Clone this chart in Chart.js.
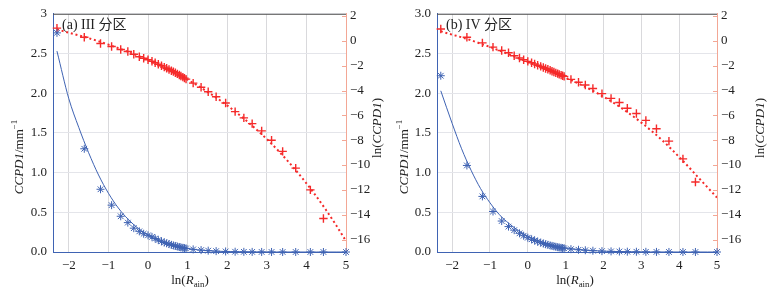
<!DOCTYPE html>
<html>
<head>
<meta charset="utf-8">
<script src="https://cdn.jsdelivr.net/npm/chart.js@4.4.0/dist/chart.umd.min.js"></script>
<style>
body { margin: 0; background: #fff; width: 775px; height: 292px; position: relative; overflow: hidden; }
canvas { position: absolute; top: 0; }
</style>
</head>
<body>
<canvas id="chartA" width="388" height="292" style="left:0"></canvas>
<canvas id="chartB" width="387" height="292" style="left:388px"></canvas>
<script>
// ln(R_ain) of each bin, shared by both zones
var lnR = [-2.30, -1.61, -1.20, -0.92, -0.69, -0.51, -0.36, -0.22, -0.11, 0,
    0.10, 0.18, 0.26, 0.34, 0.41, 0.47, 0.53, 0.59, 0.64, 0.69,
    0.74, 0.79, 0.83, 0.88, 0.92, 0.96, 1.14, 1.34, 1.52, 1.72,
    1.96, 2.20, 2.42, 2.63, 2.87, 3.12, 3.40, 3.73, 4.10, 4.43,
    5.00];

// zone III
var ccpdA = [2.76, 1.30, 0.79, 0.59, 0.45, 0.37, 0.30, 0.26, 0.23, 0.21,
    0.19, 0.17, 0.15, 0.135, 0.12, 0.11, 0.10, 0.09, 0.083, 0.076,
    0.069, 0.063, 0.058, 0.053, 0.049, 0.045, 0.033, 0.024, 0.017, 0.011,
    0.0067, 0.0034, 0.002, 0.0013, 0.0007, 0.0003, 0.0001, 0, 0, 0,
    0];
var lnCcpdA = [1.03, 0.29, -0.21, -0.45, -0.69, -0.85, -1.08, -1.28, -1.40, -1.52,
    -1.64, -1.76, -1.88, -2.00, -2.11, -2.21, -2.30, -2.40, -2.48, -2.57,
    -2.66, -2.75, -2.83, -2.92, -3.00, -3.08, -3.40, -3.74, -4.10, -4.50,
    -5.00, -5.70, -6.20, -6.66, -7.25, -8.00, -8.90, -10.25, -12.00, -14.30];

// zone IV
var ccpdB = [2.22, 1.09, 0.70, 0.51, 0.39, 0.32, 0.275, 0.235, 0.205, 0.18,
    0.16, 0.145, 0.13, 0.118, 0.107, 0.098, 0.09, 0.083, 0.077, 0.071,
    0.066, 0.061, 0.057, 0.053, 0.05, 0.047, 0.036, 0.028, 0.022, 0.016,
    0.011, 0.008, 0.006, 0.004, 0.003, 0.002, 0.001, 0.0005, 0.0002, 0.0001,
    0];
var lnCcpdB = [0.96, 0.29, -0.16, -0.50, -0.77, -0.96, -1.20, -1.38, -1.52, -1.65,
    -1.76, -1.86, -1.96, -2.05, -2.14, -2.22, -2.29, -2.37, -2.44, -2.51,
    -2.58, -2.64, -2.70, -2.76, -2.81, -2.86, -3.10, -3.33, -3.55, -3.84,
    -4.25, -4.63, -4.96, -5.42, -5.85, -6.40, -7.08, -8.07, -9.50, -11.36];

// fitted curves
var fitX = [-2.3, -2.0, -1.75, -1.5, -1.25, -1.0, -0.75, -0.5, -0.25, 0,
    0.25, 0.5, 0.75, 1.0, 1.25, 1.5, 1.75, 2.0, 2.25, 2.5,
    2.75, 3.0, 3.25, 3.5, 3.75, 4.0, 4.25, 4.5, 4.75, 5.0];
var fitCcpdA = [2.53, 1.93, 1.57, 1.25, 0.97, 0.74, 0.554, 0.411, 0.298, 0.212,
    0.148, 0.101, 0.068, 0.044, 0.027, 0.017, 0.0098, 0.0055, 0.003, 0.0016,
    0.0008, 0.0004, 0.0002, 0.0001, 0, 0, 0, 0, 0, 0];
var fitLnA = [0.93, 0.66, 0.45, 0.22, -0.03, -0.30, -0.59, -0.89, -1.21, -1.55,
    -1.91, -2.29, -2.69, -3.13, -3.60, -4.10, -4.63, -5.20, -5.81, -6.47,
    -7.17, -7.91, -8.71, -9.57, -10.49, -11.47, -12.52, -13.64, -14.84, -16.12];
var fitCcpdB = [2.03, 1.62, 1.30, 1.03, 0.80, 0.62, 0.47, 0.36, 0.27, 0.20,
    0.15, 0.11, 0.075, 0.052, 0.036, 0.025, 0.017, 0.011, 0.007, 0.004,
    0.0025, 0.0014, 0.0008, 0.0004, 0.0002, 0.0001, 0, 0, 0, 0];
var fitLnB = [0.77, 0.50, 0.29, 0.05, -0.22, -0.49, -0.78, -1.08, -1.40, -1.70,
    -2.00, -2.31, -2.63, -2.96, -3.31, -3.68, -4.07, -4.50, -4.96, -5.46,
    -6.00, -6.58, -7.20, -7.86, -8.58, -9.35, -10.15, -10.98, -11.80, -12.62];

var xTicks = [-2, -1, 0, 1, 2, 3, 4, 5];
var lnTicks = [2, 0, -2, -4, -6, -8, -10, -12, -14, -16];

var BLUE = '#3f63b3';
var RED = '#f52a2a';
var SALMON = '#f3a795';
var SERIF = '"Liberation Serif", "DejaVu Serif", serif';

function pts(xs, ys) {
    return ys.map(function (y, i) { return { x: xs[i], y: y }; });
}
function minus(v) {
    return v < 0 ? '\u2212' + Math.abs(v) : '' + v;
}

function drawRich(ctx, segs, cx, cy, rot, size) {
    ctx.save();
    ctx.translate(cx, cy);
    ctx.rotate(rot);
    ctx.textBaseline = 'middle';
    ctx.fillStyle = '#222';
    var fontOf = function (s) {
        var sz = (s.sup || s.sub) ? size * 0.68 : size;
        return (s.i ? 'italic ' : '') + sz + 'px ' + SERIF;
    };
    var w = 0;
    segs.forEach(function (s) { ctx.font = fontOf(s); w += ctx.measureText(s.t).width; });
    var x = -w / 2;
    segs.forEach(function (s) {
        ctx.font = fontOf(s);
        var dy = s.sup ? -size * 0.38 : (s.sub ? size * 0.3 : 0);
        ctx.fillText(s.t, x, dy);
        x += ctx.measureText(s.t).width;
    });
    ctx.restore();
}

var leftTitle = [{ t: 'CCPD1', i: true }, { t: '/mm' }, { t: '\u22121', sup: true }];
var rightTitle = [{ t: 'ln(' }, { t: 'CCPD1', i: true }, { t: ')' }];
var xTitle = [{ t: 'ln(' }, { t: 'R', i: true }, { t: 'ain', sub: true }, { t: ')' }];

function makeChart(id, cfg) {
    var decor = {
        id: 'decor',
        afterDraw: function (chart) {
            var ctx = chart.ctx, a = chart.chartArea;
            ctx.save();
            // top frame line
            ctx.strokeStyle = '#555';
            ctx.lineWidth = 1;
            ctx.beginPath();
            ctx.moveTo(a.left, a.top + 0.5);
            ctx.lineTo(a.right, a.top + 0.5);
            ctx.stroke();
            // inner ticks on the right axis
            var y2 = chart.scales.y2;
            ctx.strokeStyle = SALMON;
            lnTicks.forEach(function (v) {
                var py = Math.round(y2.getPixelForValue(v)) + 0.5;
                ctx.beginPath();
                ctx.moveTo(a.right - 4, py);
                ctx.lineTo(a.right, py);
                ctx.stroke();
            });
            ctx.restore();
            drawRich(ctx, leftTitle, cfg.leftTitleX, 157, -Math.PI / 2, 13);
            drawRich(ctx, rightTitle, cfg.rightTitleX, 128, -Math.PI / 2, 13);
            drawRich(ctx, xTitle, cfg.xTitleX, 281, 0, 13);
            ctx.save();
            ctx.font = '14px ' + SERIF + ', "Noto Sans CJK SC"';
            ctx.fillStyle = '#222';
            ctx.textBaseline = 'alphabetic';
            ctx.fillText(cfg.label, cfg.labelX, 29);
            ctx.restore();
        }
    };

    return new Chart(document.getElementById(id), {
        type: 'scatter',
        data: {
            datasets: [{
                data: pts(lnR, cfg.ccpd),
                yAxisID: 'y',
                pointStyle: 'star',
                radius: 4,
                borderWidth: 1,
                borderColor: BLUE,
                backgroundColor: BLUE,
                clip: false
            }, {
                data: pts(fitX, cfg.fitCcpd),
                yAxisID: 'y',
                showLine: true,
                cubicInterpolationMode: 'monotone',
                borderColor: BLUE,
                borderWidth: 1,
                pointRadius: 0
            }, {
                data: pts(lnR, cfg.lnCcpd),
                yAxisID: 'y2',
                pointStyle: 'cross',
                radius: 4.2,
                borderWidth: 1.4,
                borderColor: RED,
                backgroundColor: RED,
                clip: false
            }, {
                data: pts(fitX, cfg.fitLn),
                yAxisID: 'y2',
                showLine: true,
                cubicInterpolationMode: 'monotone',
                borderColor: RED,
                borderWidth: 2,
                borderDash: [2, 2.8],
                pointRadius: 0
            }]
        },
        options: {
            responsive: false,
            animation: false,
            events: [],
            layout: { padding: { top: 12, left: 0, right: 0, bottom: 0 } },
            plugins: { legend: { display: false }, tooltip: { enabled: false } },
            scales: {
                x: {
                    type: 'linear',
                    min: -2.4,
                    max: 5,
                    afterBuildTicks: function (s) { s.ticks = xTicks.map(function (v) { return { value: v }; }); },
                    afterFit: function (s) { s.height = 40; },
                    grid: { color: '#d9d9dc', drawTicks: false },
                    border: { color: BLUE },
                    ticks: {
                        padding: 6,
                        color: '#222',
                        font: { family: SERIF, size: 13 },
                        callback: minus
                    }
                },
                y: {
                    position: 'left',
                    min: 0,
                    max: 3,
                    afterBuildTicks: function (s) {
                        s.ticks = [0, 0.5, 1, 1.5, 2, 2.5, 3].map(function (v) { return { value: v }; });
                    },
                    afterFit: function (s) { s.width = cfg.leftW; },
                    grid: { color: '#e4e5ea', drawTicks: false },
                    border: { color: BLUE },
                    ticks: {
                        padding: 6,
                        color: '#222',
                        font: { family: SERIF, size: 13 },
                        callback: function (v) { return (v === 3 && cfg.topThree) ? '3' : v.toFixed(1); }
                    }
                },
                y2: {
                    position: 'right',
                    min: -17,
                    max: 2.18,
                    afterBuildTicks: function (s) { s.ticks = lnTicks.map(function (v) { return { value: v }; }); },
                    afterFit: function (s) { s.width = cfg.rightW; },
                    grid: { display: false, drawTicks: false },
                    border: { color: SALMON },
                    ticks: {
                        padding: 4,
                        color: '#222',
                        font: { family: SERIF, size: 13 },
                        callback: minus
                    }
                }
            }
        },
        plugins: [decor]
    });
}

makeChart('chartA', {
    ccpd: ccpdA, lnCcpd: lnCcpdA, fitCcpd: fitCcpdA, fitLn: fitLnA,
    leftW: 53, rightW: 42, topThree: true,
    leftTitleX: 20, rightTitleX: 378, xTitleX: 190,
    label: '(a) III 分区', labelX: 62
});
makeChart('chartB', {
    ccpd: ccpdB, lnCcpd: lnCcpdB, fitCcpd: fitCcpdB, fitLn: fitLnB,
    leftW: 49, rightW: 58, topThree: false,
    leftTitleX: 17, rightTitleX: 373, xTitleX: 187,
    label: '(b) IV 分区', labelX: 58
});
</script>
</body>
</html>
